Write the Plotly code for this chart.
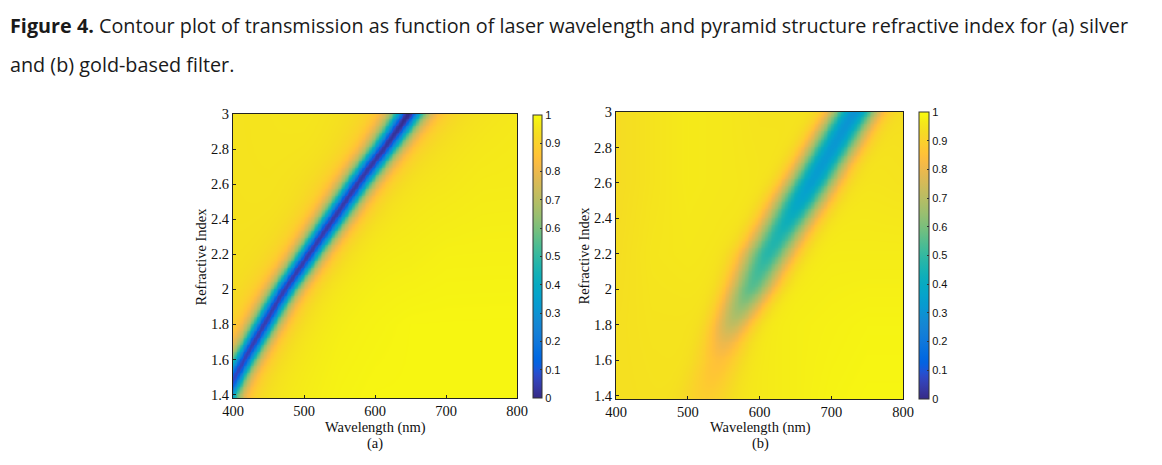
import numpy as np
import plotly.graph_objects as go

# ---------------- data ----------------
wl_ticks = [400, 500, 600, 700, 800]
wl_tick_text = ["400", "500", "600", "700", "800"]
n_ticks = [1.4, 1.6, 1.8, 2.0, 2.2, 2.4, 2.6, 2.8, 3.0]
n_tick_text = ["1.4", "1.6", "1.8", "2", "2.2", "2.4", "2.6", "2.8", "3"]
cb_ticks = [0, 0.1, 0.2, 0.3, 0.4, 0.5, 0.6, 0.7, 0.8, 0.9, 1]
cb_tick_text = ["0", "0.1", "0.2", "0.3", "0.4", "0.5", "0.6", "0.7", "0.8", "0.9", "1"]

# refractive-index rows at which the transmission dip was read
index_rows = [1.4, 1.5, 1.6, 1.7, 1.8, 1.9, 2.0, 2.1, 2.2, 2.3, 2.4, 2.5, 2.6, 2.7, 2.8, 2.9, 3.0]

# (a) silver: dip wavelength (nm), minimum transmission, width (nm)
dip_wl_a = [390, 402, 415, 429, 443, 457, 472, 489, 506, 523, 540, 557, 574, 592, 611, 629, 646]
dip_min_a = [0.08, 0.07, 0.06, 0.05, 0.05, 0.05, 0.05, 0.045, 0.045, 0.045, 0.04, 0.04, 0.04, 0.035, 0.03, 0.02, 0.0]
dip_width_a = [19, 19, 19.5, 19.5, 20, 20, 20.5, 21, 21, 21.5, 22, 22, 22.5, 23, 23, 23.5, 24]

# (b) gold: dip wavelength (nm), minimum transmission, width (nm)
dip_wl_b = [526, 534, 543, 551, 561, 574, 587, 599, 611, 626, 641, 656, 671, 686, 701, 716, 731]
dip_min_b = [0.89, 0.87, 0.85, 0.80, 0.72, 0.64, 0.56, 0.52, 0.48, 0.46, 0.42, 0.37, 0.34, 0.33, 0.32, 0.31, 0.30]
dip_width_b = [24, 22, 21, 20, 20, 21, 22, 23, 24, 24, 24, 24, 23.5, 23, 23, 22.5, 22]

# background transmission away from the dip
bg_wl = [400, 450, 500, 550, 600, 650, 700, 750, 800]
bg_rows = [1.4, 1.8, 2.2, 2.6, 3.0]
bg_a = [
    [0.95, 0.965, 0.975, 0.985, 0.99, 0.99, 0.99, 0.99, 0.99],
    [0.95, 0.96, 0.97, 0.98, 0.985, 0.99, 0.99, 0.99, 0.99],
    [0.95, 0.955, 0.965, 0.97, 0.975, 0.975, 0.98, 0.98, 0.98],
    [0.95, 0.955, 0.955, 0.96, 0.965, 0.965, 0.965, 0.97, 0.97],
    [0.95, 0.955, 0.96, 0.955, 0.955, 0.955, 0.955, 0.96, 0.965],
]
bg_b = [
    [0.94, 0.945, 0.95, 0.955, 0.965, 0.975, 0.985, 0.99, 0.99],
    [0.94, 0.95, 0.95, 0.955, 0.965, 0.975, 0.98, 0.985, 0.985],
    [0.935, 0.955, 0.96, 0.955, 0.96, 0.965, 0.97, 0.97, 0.97],
    [0.93, 0.95, 0.965, 0.96, 0.955, 0.955, 0.955, 0.955, 0.95],
    [0.93, 0.95, 0.965, 0.96, 0.95, 0.95, 0.95, 0.95, 0.94],
]

# MATLAB parula colour map
parula = [
    [0.2081, 0.1663, 0.5292], [0.2116, 0.1898, 0.5777], [0.2123, 0.2138, 0.6270], [0.2081, 0.2386, 0.6771],
    [0.1959, 0.2645, 0.7279], [0.1707, 0.2919, 0.7792], [0.1253, 0.3242, 0.8303], [0.0591, 0.3598, 0.8683],
    [0.0117, 0.3875, 0.8820], [0.0060, 0.4086, 0.8828], [0.0165, 0.4266, 0.8786], [0.0329, 0.4430, 0.8720],
    [0.0498, 0.4586, 0.8641], [0.0629, 0.4737, 0.8554], [0.0723, 0.4887, 0.8467], [0.0779, 0.5040, 0.8384],
    [0.0793, 0.5200, 0.8312], [0.0749, 0.5375, 0.8263], [0.0641, 0.5570, 0.8240], [0.0488, 0.5772, 0.8228],
    [0.0343, 0.5966, 0.8199], [0.0265, 0.6137, 0.8135], [0.0239, 0.6287, 0.8038], [0.0231, 0.6418, 0.7913],
    [0.0228, 0.6535, 0.7768], [0.0267, 0.6642, 0.7607], [0.0384, 0.6743, 0.7436], [0.0590, 0.6838, 0.7254],
    [0.0843, 0.6928, 0.7062], [0.1133, 0.7015, 0.6859], [0.1453, 0.7098, 0.6646], [0.1801, 0.7177, 0.6424],
    [0.2178, 0.7250, 0.6193], [0.2586, 0.7317, 0.5954], [0.3022, 0.7376, 0.5712], [0.3482, 0.7424, 0.5473],
    [0.3953, 0.7459, 0.5244], [0.4420, 0.7481, 0.5033], [0.4871, 0.7491, 0.4840], [0.5300, 0.7491, 0.4661],
    [0.5709, 0.7485, 0.4494], [0.6099, 0.7473, 0.4337], [0.6473, 0.7456, 0.4188], [0.6834, 0.7435, 0.4044],
    [0.7184, 0.7411, 0.3905], [0.7525, 0.7384, 0.3768], [0.7858, 0.7356, 0.3633], [0.8185, 0.7327, 0.3498],
    [0.8507, 0.7299, 0.3360], [0.8824, 0.7274, 0.3217], [0.9139, 0.7258, 0.3063], [0.9450, 0.7261, 0.2886],
    [0.9739, 0.7314, 0.2666], [0.9938, 0.7455, 0.2403], [0.9990, 0.7653, 0.2164], [0.9955, 0.7861, 0.1967],
    [0.9880, 0.8066, 0.1794], [0.9789, 0.8271, 0.1633], [0.9697, 0.8481, 0.1475], [0.9626, 0.8705, 0.1309],
    [0.9589, 0.8949, 0.1132], [0.9598, 0.9218, 0.0948], [0.9661, 0.9514, 0.0755], [0.9763, 0.9831, 0.0538],
]
colorscale = [[i / (len(parula) - 1), "rgb(%d,%d,%d)" % tuple(round(c * 255) for c in rgb)]
              for i, rgb in enumerate(parula)]

# ---------------- build the transmission maps ----------------
wl = np.arange(400, 801, 2.0)
nn = np.arange(1.38, 3.0001, 0.01)


def background(table):
    t = np.array(table)
    rows = np.array([np.interp(wl, bg_wl, r) for r in t])
    return np.array([[np.interp(n, bg_rows, rows[:, j]) for j in range(len(wl))] for n in nn])


def field(centers, mins, widths, table, shape):
    c = np.interp(nn, index_rows, centers)[:, None]
    m = np.interp(nn, index_rows, mins)[:, None]
    w = np.interp(nn, index_rows, widths)[:, None]
    bg = background(table)
    x = (wl[None, :] - c) / w
    prof = (1.0 + x ** 2) ** -1.5 if shape == "lorentz" else np.exp(-0.5 * x ** 2)
    return bg - (bg - m) * prof


Z_a = field(dip_wl_a, dip_min_a, dip_width_a, bg_a, "lorentz")
Z_b = field(dip_wl_b, dip_min_b, dip_width_b, bg_b, "gauss")

W, H = 1162, 465
OFF = 8  # page body margin in the browser


def px(x):
    return (x - OFF) / W


def py(y):
    return 1 - (y - OFF) / H


panels = [
    dict(z=Z_a, xd=[px(233), px(517)], yd=[py(398), py(114)], cbx=px(533), cby=[115, 398], cbt=9,
         xa="x", ya="y", label="(a)", cx=375, ytx=200),
    dict(z=Z_b, xd=[px(616), px(903)], yd=[py(399), py(112)], cbx=px(919), cby=[112, 399], cbt=10,
         xa="x2", ya="y2", label="(b)", cx=760, ytx=583),
]

fig = go.Figure()
serif = "Liberation Serif, Times New Roman, serif"
sans = "Liberation Sans, Arial, sans-serif"

for i, p in enumerate(panels):
    fig.add_trace(go.Heatmap(
        x=wl, y=nn, z=p["z"], zmin=0, zmax=1, zsmooth="best",
        colorscale=colorscale, xaxis=p["xa"], yaxis=p["ya"],
        hoverinfo="skip",
        colorbar=dict(
            x=p["cbx"], xanchor="left", xpad=0, ypad=0,
            y=py((p["cby"][0] + p["cby"][1]) / 2), yanchor="middle",
            len=(p["cby"][1] - p["cby"][0]) / H, lenmode="fraction",
            thickness=p["cbt"], thicknessmode="pixels",
            outlinecolor="#333", outlinewidth=1,
            tickvals=cb_ticks, ticktext=cb_tick_text, ticks="inside", ticklen=2,
            tickcolor="#333", tickfont=dict(family=sans, size=11, color="#111"),
        ),
    ))
    sfx = "" if i == 0 else "2"
    axis_common = dict(showline=True, linecolor="#222", linewidth=1, mirror=True,
                       ticks="inside", ticklen=3, tickcolor="#222", showgrid=False, zeroline=False,
                       automargin=False,
                       tickfont=dict(family=serif, size=14.5, color="#111"))
    fig.update_layout(**{
        "xaxis" + sfx: dict(domain=p["xd"], range=[400, 800], tickvals=wl_ticks, ticktext=wl_tick_text,
                            anchor="y" + sfx, **axis_common),
        "yaxis" + sfx: dict(domain=p["yd"], range=[1.38, 3.0], tickvals=n_ticks, ticktext=n_tick_text,
                            anchor="x" + sfx, **axis_common),
    })
    fig.add_annotation(text="Wavelength (nm)", x=px(p["cx"]), y=py(427), xref="paper", yref="paper",
                       showarrow=False, xanchor="center", yanchor="middle",
                       font=dict(family=serif, size=14.5, color="#111"))
    fig.add_annotation(text=p["label"], x=px(p["cx"]), y=py(443), xref="paper", yref="paper",
                       showarrow=False, xanchor="center", yanchor="middle",
                       font=dict(family=serif, size=14.5, color="#111"))
    fig.add_annotation(text="Refractive Index", x=px(p["ytx"]), y=py((p["cby"][0] + p["cby"][1]) / 2),
                       xref="paper", yref="paper", showarrow=False, textangle=-90,
                       xanchor="center", yanchor="middle",
                       font=dict(family=serif, size=14.5, color="#111"))

fig.add_annotation(
    text="<b>Figure 4.</b> Contour plot of transmission as function of laser wavelength and pyramid "
         "structure refractive index for (a) silver",
    x=px(8), y=py(26), xref="paper", yref="paper", showarrow=False, xanchor="left", yanchor="middle",
    font=dict(family="Open Sans, sans-serif", size=19.8, color="#1a1a1a"))
fig.add_annotation(
    text="and (b) gold-based filter.",
    x=px(8), y=py(64), xref="paper", yref="paper", showarrow=False, xanchor="left", yanchor="middle",
    font=dict(family="Open Sans, sans-serif", size=19.8, color="#1a1a1a"))

fig.update_layout(width=W, height=H, margin=dict(l=0, r=0, t=0, b=0, autoexpand=False),
                  paper_bgcolor="white", plot_bgcolor="white", showlegend=False)

fig.write_html("out.html")
